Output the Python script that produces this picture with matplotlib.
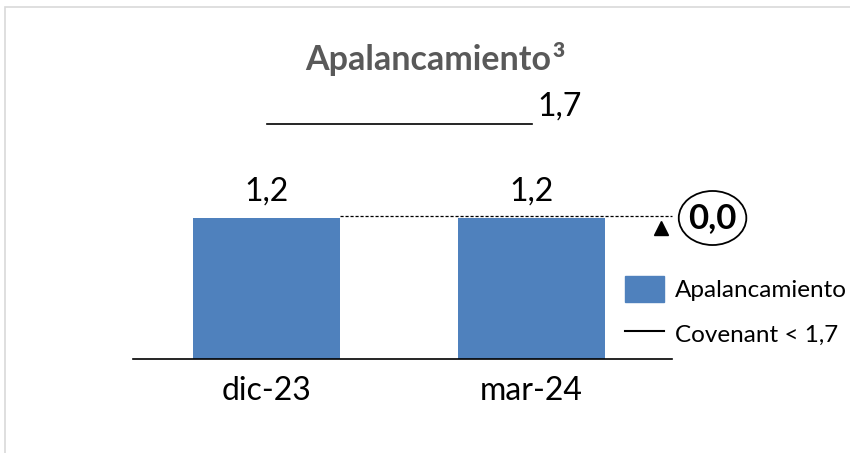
import matplotlib.pyplot as plt
from matplotlib.patches import Rectangle, Ellipse
from matplotlib.lines import Line2D

plt.rcParams['font.family'] = ['Lato', 'DejaVu Sans']

# datos
categorias = ["dic-23", "mar-24"]
apalancamiento = [1.2, 1.2]
covenant = 1.7
variacion = apalancamiento[1] - apalancamiento[0]

azul = "#4F81BD"

fig = plt.figure(figsize=(8.5, 4.53), dpi=100)
W, H = 850, 453

# marco gris del grafico
fig.patches.append(Rectangle((5 / W, -0.1), 1.2, (H - 7) / H + 0.1,
                             transform=fig.transFigure, fill=False,
                             edgecolor="#D9D9D9", linewidth=1.2))

left, right, bottom, top = 133, 672, 359, 40
ax = fig.add_axes([left / W, (H - bottom) / H, (right - left) / W, (bottom - top) / H])
ax2 = ax.twinx()

x = list(range(len(categorias)))
ancho = 0.555
ax.bar(x, apalancamiento, width=ancho, color=azul, zorder=2)
ax.set_xlim(-0.504, 1.53)
ax.set_ylim(0, 2.715)
ax2.set_ylim(0, 2.308)

for xi, v in zip(x, apalancamiento):
    ax.annotate(f"{v:.1f}".replace(".", ","), (xi, v), xytext=(0, 8),
                textcoords="offset points", ha="center", va="bottom", fontsize=23)

# covenant
ax2.plot([x[0], x[-1]], [covenant, covenant], color="black", linewidth=1.2)
ax2.annotate(f"{covenant:.1f}".replace(".", ","), (x[-1], covenant), xytext=(4, 2),
             textcoords="offset points", ha="left", va="bottom", fontsize=23)

# linea discontinua de variacion
ax.plot([x[0] + ancho / 2, 1.53], [apalancamiento[1] + 0.015] * 2, color="black",
        linestyle=(0, (2.5, 1.5)), linewidth=0.9, clip_on=False)
ax.plot([1.489], [apalancamiento[1] - 0.085], marker="^", color="black",
        markersize=10, clip_on=False)
ax.add_patch(Ellipse((1.683, apalancamiento[1]), 0.255, 0.46, fc="white",
                     ec="black", lw=1.3, clip_on=False))
ax.annotate(f"{variacion:.1f}".replace(".", ","), (1.683, apalancamiento[1]),
            ha="center", va="center", fontsize=25, fontweight="bold",
            annotation_clip=False)

ax.set_xticks(x)
ax.set_xticklabels(categorias, fontsize=23)
ax.tick_params(axis="x", length=0, pad=12)
ax.set_yticks([])
ax2.set_yticks([])
for a in (ax, ax2):
    for s in ("top", "right", "left"):
        a.spines[s].set_visible(False)
ax.spines["bottom"].set_linewidth(1.2)
ax2.spines["bottom"].set_visible(False)

# titulo con superindice
titulo = fig.text(428 / W, 1 - 60 / H, "Apalancamiento", ha="center", va="center",
                  fontsize=24.5, fontweight="bold", color="#595959")
ax.annotate("3", xy=(1, 0.5), xycoords=titulo, xytext=(1, 0), textcoords="offset points",
            ha="left", va="bottom", fontsize=15, fontweight="heavy", color="#595959",
            annotation_clip=False)

handles = [Rectangle((0, 0), 1, 1, color=azul),
           Line2D([0], [0], color="black", linewidth=1.5)]
fig.legend(handles, ["Apalancamiento", "Covenant < 1,7"], loc="upper left",
           bbox_to_anchor=(625 / W, 1 - 276 / H), frameon=False, fontsize=17.5,
           handlelength=1.6, handleheight=1.3, handletextpad=0.45, labelspacing=0.75,
           borderaxespad=0, borderpad=0)

fig.savefig("out.png", dpi=100)
